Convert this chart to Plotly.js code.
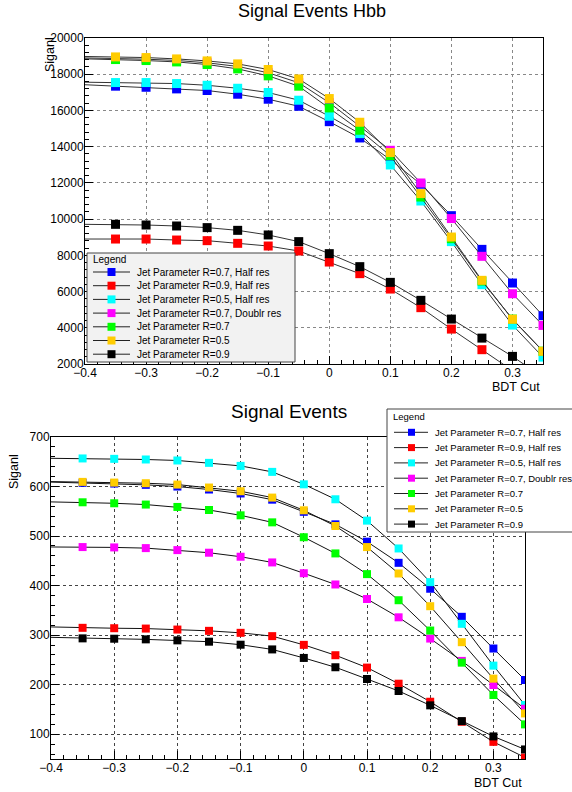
<!DOCTYPE html>
<html>
<head>
<meta charset="utf-8">
<script src="https://cdn.plot.ly/plotly-3.0.1.min.js"></script>
<style>html,body{margin:0;padding:0;background:#fff;}#chart{width:572px;height:792px;}</style>
</head>
<body>
<div id="chart"></div>
<script>
// ---- data ----
const bdtCut = [-0.4, -0.35, -0.3, -0.25, -0.2, -0.15, -0.1, -0.05, 0, 0.05, 0.1, 0.15, 0.2, 0.25, 0.3, 0.35];

const seriesNames = [
  "Jet Parameter R=0.7, Half res",
  "Jet Parameter R=0.9, Half res",
  "Jet Parameter R=0.5, Half res",
  "Jet Parameter R=0.7, Doublr res",
  "Jet Parameter R=0.7",
  "Jet Parameter R=0.5",
  "Jet Parameter R=0.9"
];
const seriesColors = ["#0000ff", "#ff0000", "#00ffff", "#ff00ff", "#00ff00", "#ffcc00", "#000000"];

// Top panel: Signal Events Hbb
const hbbR07Half   = [17420, 17340, 17280, 17190, 17100, 16895, 16620, 16230, 15380, 14480, 13285, 11925, 10190, 8330, 6470, 4667];
const hbbR09Half   = [8900, 8900, 8900, 8845, 8810, 8663, 8515, 8240, 7630, 6988, 6138, 5110, 3928, 2790, 1610, 500];
const hbbR05Half   = [17560, 17540, 17540, 17485, 17390, 17225, 16990, 16565, 15680, 14720, 12990, 11000, 8757, 6380, 4150, 2380];
const hbbR07Double = [18900, 18870, 18830, 18760, 18630, 18430, 18080, 17530, 16430, 15127, 13800, 11995, 10030, 7945, 5880, 4130];
const hbbR07       = [18850, 18810, 18755, 18680, 18535, 18295, 17910, 17340, 16140, 14906, 13500, 11220, 8920, 6580, 4480, 2710];
const hbbR05       = [18980, 18956, 18920, 18845, 18735, 18570, 18260, 17740, 16657, 15348, 13673, 11408, 9010, 6620, 4470, 2700];
const hbbR09       = [9712, 9712, 9675, 9620, 9530, 9380, 9125, 8757, 8093, 7375, 6508, 5515, 4480, 3430, 2420, 1260];

// Bottom panel: Signal Events
const sigR07Half   = [609, 607.5, 606, 603.4, 600, 594, 586, 573.5, 549, 523.7, 488.7, 446, 393.7, 337, 273, 209.5];
const sigR09Half   = [316.6, 314.8, 314, 313.3, 311.3, 308.7, 304.7, 298, 280.4, 259.5, 234.5, 202, 165.6, 125.2, 84.6, 53];
const sigR05Half   = [657, 656.7, 655.9, 654.6, 652.6, 647.8, 641.7, 629.6, 604.5, 574.3, 531.2, 475, 407, 322.9, 238.5, 158.9];
const sigR07Double = [478, 477.8, 477.1, 475.7, 471.7, 466.4, 458.3, 446.8, 425, 402.3, 373, 336, 293.1, 248, 199.4, 151.5];
const sigR07       = [569, 568.2, 566.2, 563.6, 558.8, 552.6, 541.9, 527.7, 497.7, 465, 423.2, 370.5, 309.3, 244.5, 179.2, 119.9];
const sigR05       = [610, 609.4, 608, 606.7, 604, 598, 590.5, 577.7, 552, 520.3, 477.8, 424.5, 358.4, 285.8, 212.2, 142];
const sigR09       = [295.6, 293.5, 292.8, 291.5, 289.5, 286.8, 280.7, 271.2, 254, 235.2, 211.5, 187.3, 158.3, 126.5, 95.6, 69.3];

const hbbSeries = [hbbR07Half, hbbR09Half, hbbR05Half, hbbR07Double, hbbR07, hbbR05, hbbR09];
const sigSeries = [sigR07Half, sigR09Half, sigR05Half, sigR07Double, sigR07, sigR05, sigR09];

// ---- geometry helpers (pixel -> paper) ----
const W = 572, H = 792;
const px = v => v / W;
const py = v => 1 - v / H;
const FONT = "Liberation Sans, Arial, Helvetica, sans-serif";

function markerSizes(s) { return bdtCut.map((x, i) => (i === 0 ? 0 : s)); }

const traces = [];
hbbSeries.forEach((ys, i) => {
  traces.push({
    x: bdtCut, y: ys, xaxis: "x", yaxis: "y", name: seriesNames[i],
    mode: "lines+markers", showlegend: false, hoverinfo: "skip",
    line: {color: "#333", width: 1},
    marker: {symbol: "square", size: markerSizes(9), opacity: 1, color: seriesColors[i], line: {width: 0}}
  });
});
sigSeries.forEach((ys, i) => {
  traces.push({
    x: bdtCut, y: ys, xaxis: "x2", yaxis: "y2", name: seriesNames[i],
    mode: "lines+markers", showlegend: false, hoverinfo: "skip",
    line: {color: "#111", width: 1},
    marker: {symbol: "square", size: markerSizes(8), opacity: 1, color: seriesColors[i], line: {width: 0}}
  });
});

function axisBase(extra) {
  return Object.assign({
    ticks: "inside", ticklen: 8, tickwidth: 1, tickcolor: "#000",
    showline: true, mirror: true, linecolor: "#000", linewidth: 1,
    showgrid: true, griddash: "dot", gridwidth: 1,
    zeroline: false, tickfont: {family: FONT, size: 12, color: "#000"},
    fixedrange: true
  }, extra);
}

const shapes = [];
const annotations = [];

// manual legends
function drawLegend(opt) {
  shapes.push({type: "rect", xref: "paper", yref: "paper",
    x0: px(opt.x0), x1: px(opt.x1), y0: py(opt.y1), y1: py(opt.y0),
    line: {color: opt.border, width: 1}, fillcolor: opt.fill, layer: "above"});
  annotations.push({xref: "paper", yref: "paper", x: px(opt.x0 + 4), y: py(opt.titleY),
    xanchor: "left", yanchor: "middle", showarrow: false, text: "Legend",
    font: {family: FONT, size: opt.fs, color: "#000"}});
  seriesNames.forEach((nm, i) => {
    const yc = opt.firstY + i * opt.dy;
    shapes.push({type: "line", xref: "paper", yref: "paper",
      x0: px(opt.lx0), x1: px(opt.lx1), y0: py(yc), y1: py(yc),
      line: {color: "#222", width: 1}, layer: "above"});
    shapes.push({type: "rect", xref: "paper", yref: "paper",
      x0: px(opt.mx - opt.ms / 2), x1: px(opt.mx + opt.ms / 2),
      y0: py(yc + opt.ms / 2), y1: py(yc - opt.ms / 2),
      line: {width: 0}, fillcolor: seriesColors[i], layer: "above"});
    annotations.push({xref: "paper", yref: "paper", x: px(opt.tx), y: py(yc),
      xanchor: "left", yanchor: "middle", showarrow: false, text: nm,
      font: {family: FONT, size: opt.fs, color: "#000"}});
  });
}

drawLegend({x0: 87, x1: 295, y0: 253, y1: 362, fill: "#f2f2f2", border: "#444",
  titleY: 259, firstY: 272, dy: 13.7, lx0: 93, lx1: 130, mx: 111.5, ms: 8, tx: 135, fs: 10});
drawLegend({x0: 387, x1: 575, y0: 409, y1: 532, fill: "#ffffff", border: "#444",
  titleY: 416, firstY: 432.3, dy: 15.3, lx0: 394, lx1: 428, mx: 411.5, ms: 7, tx: 433, fs: 9.5});

// titles & axis titles
annotations.push({xref: "paper", yref: "paper", x: px(289), y: py(411), xanchor: "center", yanchor: "middle",
  showarrow: false, text: "Signal Events", font: {family: FONT, size: 19, color: "#000"}});
annotations.push({xref: "paper", yref: "paper", x: px(50), y: py(55), xanchor: "center", yanchor: "middle",
  showarrow: false, textangle: -90, text: "Siganl", font: {family: FONT, size: 12.5, color: "#000"}});
annotations.push({xref: "paper", yref: "paper", x: px(14), y: py(472), xanchor: "center", yanchor: "middle",
  showarrow: false, textangle: -90, text: "Siganl", font: {family: FONT, size: 12.5, color: "#000"}});
annotations.push({xref: "paper", yref: "paper", x: px(542), y: py(387), xanchor: "right", yanchor: "middle",
  showarrow: false, text: "BDT Cut", font: {family: FONT, size: 12.5, color: "#000"}});
annotations.push({xref: "paper", yref: "paper", x: px(524), y: py(783), xanchor: "right", yanchor: "middle",
  showarrow: false, text: "BDT Cut", font: {family: FONT, size: 12.5, color: "#000"}});

const layout = {
  width: W, height: H,
  margin: {l: 0, r: 0, t: 0, b: 0},
  paper_bgcolor: "#fff", plot_bgcolor: "#fff",
  font: {family: FONT, size: 12, color: "#000"},
  showlegend: false,
  title: {text: "Signal Events Hbb", x: px(312), y: py(11), xref: "paper", yref: "paper",
    xanchor: "center", yanchor: "middle", font: {family: FONT, size: 18, color: "#000"}},
  xaxis: axisBase({domain: [px(85), px(543)], anchor: "y", range: [-0.4, 0.35], tick0: 0, dtick: 0.1,
    ticklabelstandoff: -2,
    gridcolor: "#888", minor: {dtick: 0.02, tick0: 0, ticks: "inside", ticklen: 4, tickcolor: "#000", showgrid: false}}),
  yaxis: axisBase({domain: [py(364), py(38)], anchor: "x", range: [2000, 20000], tick0: 0, dtick: 2000,
    tickformat: "d", ticklabelstandoff: -2,
    gridcolor: "#888", minor: {dtick: 400, tick0: 0, ticks: "inside", ticklen: 4, tickcolor: "#000", showgrid: false}}),
  xaxis2: axisBase({domain: [px(51), px(525)], anchor: "y2", range: [-0.4, 0.35], tick0: 0, dtick: 0.1,
    ticklabelstandoff: -2,
    gridcolor: "#444", minor: {dtick: 0.02, tick0: 0, ticks: "inside", ticklen: 4, tickcolor: "#000", showgrid: false}}),
  yaxis2: axisBase({domain: [py(759), py(437)], anchor: "x2", range: [50, 700], tick0: 0, dtick: 100,
    tickformat: "d", ticklabelstandoff: -2,
    gridcolor: "#444", minor: {dtick: 20, tick0: 0, ticks: "inside", ticklen: 4, tickcolor: "#000", showgrid: false}}),
  shapes: shapes,
  annotations: annotations
};

Plotly.newPlot("chart", traces, layout, {staticPlot: true, displayModeBar: false});
</script>
</body>
</html>
